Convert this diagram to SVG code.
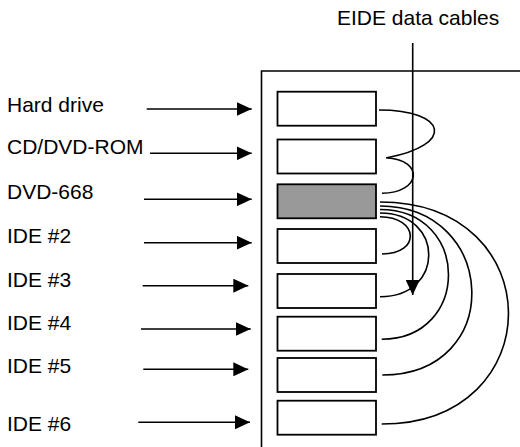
<svg xmlns="http://www.w3.org/2000/svg" width="520" height="447" viewBox="0 0 520 447">
<defs>
<marker id="ah" markerUnits="userSpaceOnUse" markerWidth="15" markerHeight="14" refX="15" refY="7" orient="auto">
<path d="M0,0 L15,7 L0,14 z" fill="#000"/>
</marker>
<style>
text{font-family:"Liberation Sans",Arial,sans-serif;font-size:21px;fill:#000}
.box{fill:#fff;stroke:#000;stroke-width:1.8}
.gray{fill:#999}
.ln{fill:none;stroke:#000;stroke-width:1.6}
.arr{fill:none;stroke:#000;stroke-width:1.6;marker-end:url(#ah)}
</style>
</defs>
<rect width="520" height="447" fill="#fff"/>
<g id="frame">
<path class="ln" d="M261.5,447 V71 H520"/>
</g>
<text x="337" y="25">EIDE data cables</text>
<g id="n1"><text x="7" y="112">Hard drive</text><rect class="box" x="277.5" y="91.7" width="98.5" height="34"/></g>
<g id="n2"><text x="7" y="154">CD/DVD-ROM</text><rect class="box" x="277.5" y="139.5" width="98.5" height="34"/></g>
<g id="n3"><text x="7" y="199">DVD-668</text><rect class="box gray" x="277.5" y="184.3" width="98.5" height="34"/></g>
<g id="n4"><text x="7" y="243">IDE #2</text><rect class="box" x="277.5" y="229" width="98.5" height="34"/></g>
<g id="n5"><text x="7" y="287">IDE #3</text><rect class="box" x="277.5" y="274" width="98.5" height="34"/></g>
<g id="n6"><text x="7" y="330">IDE #4</text><rect class="box" x="277.5" y="316.7" width="98.5" height="34"/></g>
<g id="n7"><text x="7" y="373">IDE #5</text><rect class="box" x="277.5" y="358" width="98.5" height="34"/></g>
<g id="n8"><text x="7" y="431">IDE #6</text><rect class="box" x="277.5" y="400.7" width="98.5" height="34"/></g>
<g id="connectors">
<line class="arr" x1="146.7" y1="109" x2="251.7" y2="109"/>
<line class="arr" x1="150" y1="153.3" x2="251.7" y2="153.3"/>
<line class="arr" x1="144" y1="199.3" x2="251.7" y2="199.3"/>
<line class="arr" x1="144" y1="242.7" x2="251.7" y2="242.7"/>
<line class="arr" x1="142.7" y1="285.7" x2="248.3" y2="285.7"/>
<line class="arr" x1="141" y1="329" x2="250.7" y2="329"/>
<line class="arr" x1="143.3" y1="369.3" x2="248.3" y2="369.3"/>
<line class="arr" x1="138.3" y1="422.3" x2="250" y2="422.3"/>
<path class="ln" d="M379,110 C448,110 455,145 387,157.7"/>
<path class="ln" d="M386,157.7 C425,160 421,193 382,193.3"/>
<path class="ln" d="M380,216.7 C419,217 421,254 382,254"/>
<path class="ln" d="M380,213 C445,213 445,297 380,296.7"/>
<path class="ln" d="M380,209.5 C471,209.5 471,339 381.7,339.3"/>
<path class="ln" d="M380,206 C498,206 506,375 382.3,375"/>
<path class="ln" d="M380,202 C551,202 551,424 381.7,424"/>
<line class="arr" x1="412.7" y1="43" x2="412.7" y2="295"/>
</g>
</svg>
